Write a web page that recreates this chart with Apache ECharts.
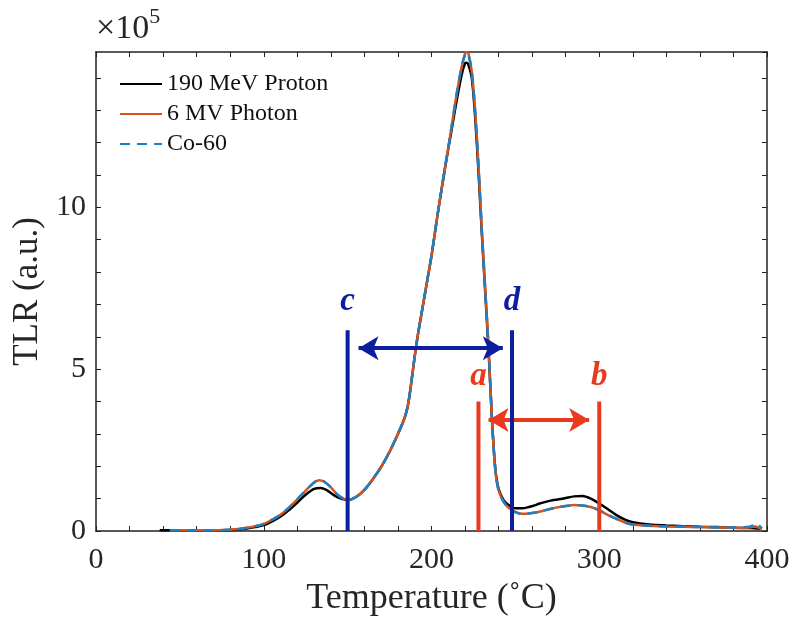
<!DOCTYPE html>
<html><head><meta charset="utf-8">
<script src="https://cdn.jsdelivr.net/npm/echarts@6/dist/echarts.min.js"></script>
<style>html,body{margin:0;padding:0;background:#fff}#c{width:795px;height:626px}</style>
</head><body><div id="c"></div>
<script>
// Temperature (°C) and TLR (×10^5)
const tempsProton = [38,44,50,60,70,80,85,90,95,100,105,110,115,120,125,130,134,138,142,146,150,155,160,165,170,175,180,184,186,188,190,192,194,196,198,200,202,204,208,212,215,218,220,221,222,224,226,228,230,232,234,236,238,240,243,246,250,254,258,262,264,268,272,276,280,285,290,295,300,305,310,315,320,330,340,350,360,370,380,390,396];
const proton =      [0.02,0.02,0.02,0.02,0.02,0.03,0.05,0.08,0.12,0.18,0.3,0.45,0.65,0.88,1.12,1.3,1.33,1.25,1.1,1.0,0.96,1.05,1.27,1.6,1.98,2.45,3.0,3.5,3.9,4.6,5.4,6.1,6.7,7.3,7.9,8.5,9.2,9.9,11.2,12.4,13.3,14.1,14.45,14.47,14.4,14.0,12.8,11.1,9.2,7.4,5.6,3.5,1.95,1.3,0.95,0.8,0.7,0.7,0.74,0.8,0.84,0.9,0.95,0.98,1.02,1.07,1.08,1.0,0.85,0.68,0.5,0.36,0.27,0.2,0.17,0.15,0.13,0.12,0.1,0.09,0.07];

const tempsPhoton = [44,50,60,70,80,85,90,95,100,105,110,115,120,125,130,133,136,140,144,148,151,155,160,165,170,175,180,184,186,188,190,192,194,196,198,200,202,204,208,212,215,218,220,221,222,224,226,228,230,232,234,236,238,240,243,246,250,254,258,262,266,270,275,280,285,290,295,300,305,310,315,320,330,340,350,360,370,380,388,391,393,395,397];
const photon = [0.02,0.02,0.02,0.02,0.04,0.06,0.1,0.15,0.22,0.35,0.5,0.72,0.98,1.25,1.5,1.57,1.52,1.35,1.12,0.99,0.96,1.05,1.27,1.6,1.98,2.45,3.0,3.5,3.9,4.6,5.4,6.1,6.7,7.3,7.9,8.5,9.2,9.9,11.2,12.5,13.5,14.35,14.75,14.8,14.75,14.2,13.0,11.3,9.3,7.5,5.7,3.5,1.9,1.25,0.9,0.72,0.58,0.53,0.54,0.57,0.62,0.67,0.73,0.77,0.8,0.79,0.74,0.64,0.5,0.38,0.27,0.2,0.16,0.14,0.13,0.12,0.11,0.1,0.1,0.12,0.14,0.1,0.06];
const co60 =   [0.02,0.02,0.02,0.02,0.04,0.06,0.1,0.15,0.22,0.35,0.5,0.72,0.98,1.25,1.5,1.58,1.53,1.35,1.12,0.99,0.96,1.05,1.27,1.6,1.98,2.45,3.0,3.5,3.9,4.6,5.4,6.1,6.7,7.3,7.9,8.5,9.2,9.9,11.2,12.5,13.5,14.35,14.72,14.78,14.72,14.2,13.0,11.3,9.3,7.5,5.7,3.5,1.9,1.25,0.9,0.72,0.58,0.53,0.54,0.57,0.62,0.67,0.73,0.77,0.8,0.79,0.74,0.64,0.5,0.38,0.27,0.2,0.16,0.14,0.13,0.12,0.11,0.11,0.12,0.16,0.24,0.18,0.08];

// Annotations (x in °C, heights in ×10^5)
const blueLinesT = [150, 248];   // c, d
const blueLabels = ['c', 'd'];
const blueLineTop = 6.2;
const blueArrow = [156.5, 242.5, 5.65]; // from, to, level
const redLinesT = [228, 300];    // a, b
const redLabels = ['a', 'b'];
const redLineTop = 4.0;
const redArrow = [234, 294, 3.43];
const labelLevelBlue = 7.1;
const labelLevelRed = 4.78;

const xTicks = [0, 100, 200, 300, 400];
const yTicks = [0, 5, 10];

const FONT = '"Liberation Serif", "Times New Roman", serif';
const BLUE = '#0a1e9e', RED = '#ea3a1e';
const zip = (t, v) => t.map((x, i) => [x, v[i]]);

function vline(x, top, color) {
  return {type: 'line', data: [[x, 0], [x, top]], symbol: 'none', silent: true,
    lineStyle: {color: color, width: 4}, z: 5, xAxisIndex: 0, yAxisIndex: 0};
}

const series = [
  {name: '190 MeV Proton', type: 'line', data: zip(tempsProton, proton), symbol: 'none', smooth: 0.3,
   lineStyle: {color: '#000', width: 2.5}, itemStyle: {color: '#000'}, z: 3},
  {name: '6 MV Photon', type: 'line', data: zip(tempsPhoton, photon), symbol: 'none', smooth: 0.3,
   lineStyle: {color: '#d95319', width: 2.5}, itemStyle: {color: '#d95319'}, z: 3},
  {name: 'Co-60', type: 'line', data: zip(tempsPhoton, co60), symbol: 'none', smooth: 0.3,
   lineStyle: {color: '#1f7fc4', width: 2.5, type: [10, 7]}, itemStyle: {color: '#1f7fc4'}, z: 4},
];
blueLinesT.forEach(x => series.push(vline(x, blueLineTop, BLUE)));
redLinesT.forEach(x => series.push(vline(x, redLineTop, RED)));
series.push({type: 'scatter', symbolSize: 0, silent: true, z: 6, itemStyle: {color: 'transparent'},
  data: blueLinesT.map((x, i) => ({value: [x, labelLevelBlue], label: {formatter: blueLabels[i], color: BLUE}}))
    .concat(redLinesT.map((x, i) => ({value: [x, labelLevelRed], label: {formatter: redLabels[i], color: RED}}))),
  label: {show: true, position: 'inside', fontFamily: FONT, fontSize: 33, fontWeight: 'bold', fontStyle: 'italic',
    textBorderWidth: 0, textBorderColor: 'transparent', opacity: 1}
});
series.push({type: 'line', data: [], silent: true, z: 6,
  markLine: {silent: true, symbol: ['arrow', 'arrow'], symbolSize: [18, 20], label: {show: false},
    data: [
      [{coord: [blueArrow[0], blueArrow[2]], lineStyle: {color: BLUE, width: 4, type: 'solid'}}, {coord: [blueArrow[1], blueArrow[2]]}],
      [{coord: [redArrow[0], redArrow[2]], lineStyle: {color: RED, width: 4, type: 'solid'}}, {coord: [redArrow[1], redArrow[2]]}]
    ]}
});

const tickLbl = {fontFamily: FONT, fontSize: 30, color: '#262626'};
const option = {
  animation: false,
  grid: {left: 96, right: 28, top: 52, bottom: 95},
  legend: {
    data: ['190 MeV Proton', '6 MV Photon', 'Co-60'], orient: 'vertical', left: 114, top: 66,
    itemWidth: 42, itemHeight: 14, itemGap: 4, itemStyle: {opacity: 0, borderWidth: 0},
    textStyle: {fontFamily: FONT, fontSize: 24, lineHeight: 26, color: '#111'}
  },
  xAxis: [
    {type: 'value', min: 0, max: 400, interval: 20, position: 'bottom',
     name: 'Temperature (˚C)', nameLocation: 'middle', nameGap: 50,
     nameTextStyle: {fontFamily: FONT, fontSize: 36, color: '#262626'},
     axisLine: {onZero: false, lineStyle: {color: '#222', width: 1.5}},
     axisTick: {inside: true, length: 5, lineStyle: {color: '#222'}},
     axisLabel: Object.assign({margin: 14, formatter: v => xTicks.includes(v) ? String(v) : ''}, tickLbl),
     splitLine: {show: false}},
    {type: 'value', min: 0, max: 400, interval: 20, position: 'top',
     axisLine: {onZero: false, lineStyle: {color: '#222', width: 1.5}},
     axisTick: {inside: true, length: 5, lineStyle: {color: '#222'}},
     axisLabel: {show: false}, splitLine: {show: false}}
  ],
  yAxis: [
    {type: 'value', min: 0, max: 14.8, interval: 1, position: 'left',
     name: 'TLR (a.u.)', nameLocation: 'middle', nameGap: 47, nameRotate: 90,
     nameTextStyle: {fontFamily: FONT, fontSize: 35, color: '#262626'},
     axisLine: {onZero: false, lineStyle: {color: '#222', width: 1.5}},
     axisTick: {inside: true, length: 5, lineStyle: {color: '#222'}},
     axisLabel: Object.assign({margin: 10, showMaxLabel: false, formatter: v => yTicks.includes(v) ? String(v) : ''}, tickLbl),
     splitLine: {show: false}},
    {type: 'value', min: 0, max: 14.8, interval: 1, position: 'right',
     axisLine: {onZero: false, lineStyle: {color: '#222', width: 1.5}},
     axisTick: {inside: true, length: 5, lineStyle: {color: '#222'}},
     axisLabel: {show: false}, splitLine: {show: false}}
  ],
  graphic: [{type: 'text', left: 96, top: 6, style: {
    text: '{a|×10}{b|5}', rich: {
      a: {fontFamily: FONT, fontSize: 34, fill: '#262626', verticalAlign: 'bottom', lineHeight: 40},
      b: {fontFamily: FONT, fontSize: 22, fill: '#262626', verticalAlign: 'top', lineHeight: 40}
    }}}],
  series: series
};
echarts.init(document.getElementById('c')).setOption(option);
</script></body></html>
